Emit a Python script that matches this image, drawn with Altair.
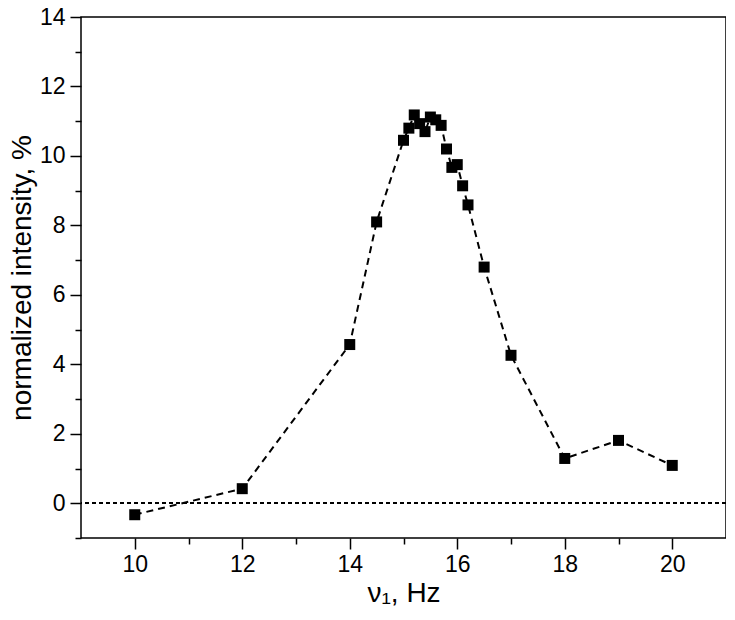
import altair as alt
import pandas as pd

freq = [10, 12, 14, 14.5, 15, 15.1, 15.2, 15.3, 15.4, 15.5, 15.6, 15.7, 15.8,
        15.9, 16.0, 16.1, 16.2, 16.5, 17, 18, 19, 20]
intensity = [-0.33, 0.42, 4.57, 8.1, 10.45, 10.8, 11.18, 10.93, 10.7, 11.12,
             11.04, 10.88, 10.2, 9.67, 9.75, 9.14, 8.59, 6.8, 4.26, 1.29, 1.81, 1.09]

x_major = [10, 12, 14, 16, 18, 20]
x_minor = [11, 13, 15, 17, 19]
y_major = [0, 2, 4, 6, 8, 10, 12, 14]
y_minor = [-1, 1, 3, 5, 7, 9, 11, 13]
x_domain = [9, 21]
y_domain = [-1, 14]

df = pd.DataFrame({"freq": freq, "intensity": intensity})

FONT = "Liberation Sans"

x_scale = alt.Scale(domain=x_domain, nice=False, zero=False)
y_scale = alt.Scale(domain=y_domain, nice=False, zero=False)

major_x = alt.Axis(orient="bottom", values=x_major, tickSize=11, tickWidth=1.5,
                   tickColor="black", domain=False, grid=False,
                   labelFont=FONT, labelFontSize=23, labelColor="black",
                   labelPadding=4, labelFlush=False,
                   title="ν₁, Hz", titleFont=FONT, titleFontSize=28,
                   titleFontWeight="normal", titleColor="black", titlePadding=3)
major_y = alt.Axis(orient="left", values=y_major, tickSize=11, tickWidth=1.5,
                   tickColor="black", domain=False, grid=False,
                   labelFont=FONT, labelFontSize=23, labelColor="black",
                   labelPadding=5, labelFlush=False,
                   title="normalized intensity, %", titleFont=FONT, titleFontSize=28,
                   titleFontWeight="normal", titleColor="black", titlePadding=3)
minor_x = alt.Axis(orient="bottom", values=x_minor, tickSize=6, tickWidth=1.5,
                   tickColor="black", domain=False, grid=False, labels=False,
                   title=None)
minor_y = alt.Axis(orient="left", values=y_minor, tickSize=6, tickWidth=1.5,
                   tickColor="black", domain=False, grid=False, labels=False,
                   title=None)

base = alt.Chart(df)

zero_line = alt.Chart(df).mark_rule(color="black", strokeWidth=1.5,
                                    strokeDash=[4, 3]).encode(
    y=alt.Y(datum=0, scale=y_scale, axis=None))

line = base.mark_line(color="black", strokeWidth=2, strokeDash=[7, 5]).encode(
    x=alt.X("freq:Q", scale=x_scale, axis=major_x),
    y=alt.Y("intensity:Q", scale=y_scale, axis=major_y),
)

points = base.mark_square(color="black", size=121, opacity=1).encode(
    x=alt.X("freq:Q", scale=x_scale, axis=minor_x),
    y=alt.Y("intensity:Q", scale=y_scale, axis=minor_y),
)

chart = alt.layer(line, points, zero_line).resolve_axis(
    x="independent", y="independent"
).properties(
    width=645,
    height=521,
    autosize=alt.AutoSizeParams(type="none"),
    padding={"left": 73, "top": 9, "right": 0, "bottom": 72},
    background="white",
).configure_view(stroke="black", strokeWidth=1.5)

chart.save("out.html", embed_options={"renderer": "svg", "actions": False})
